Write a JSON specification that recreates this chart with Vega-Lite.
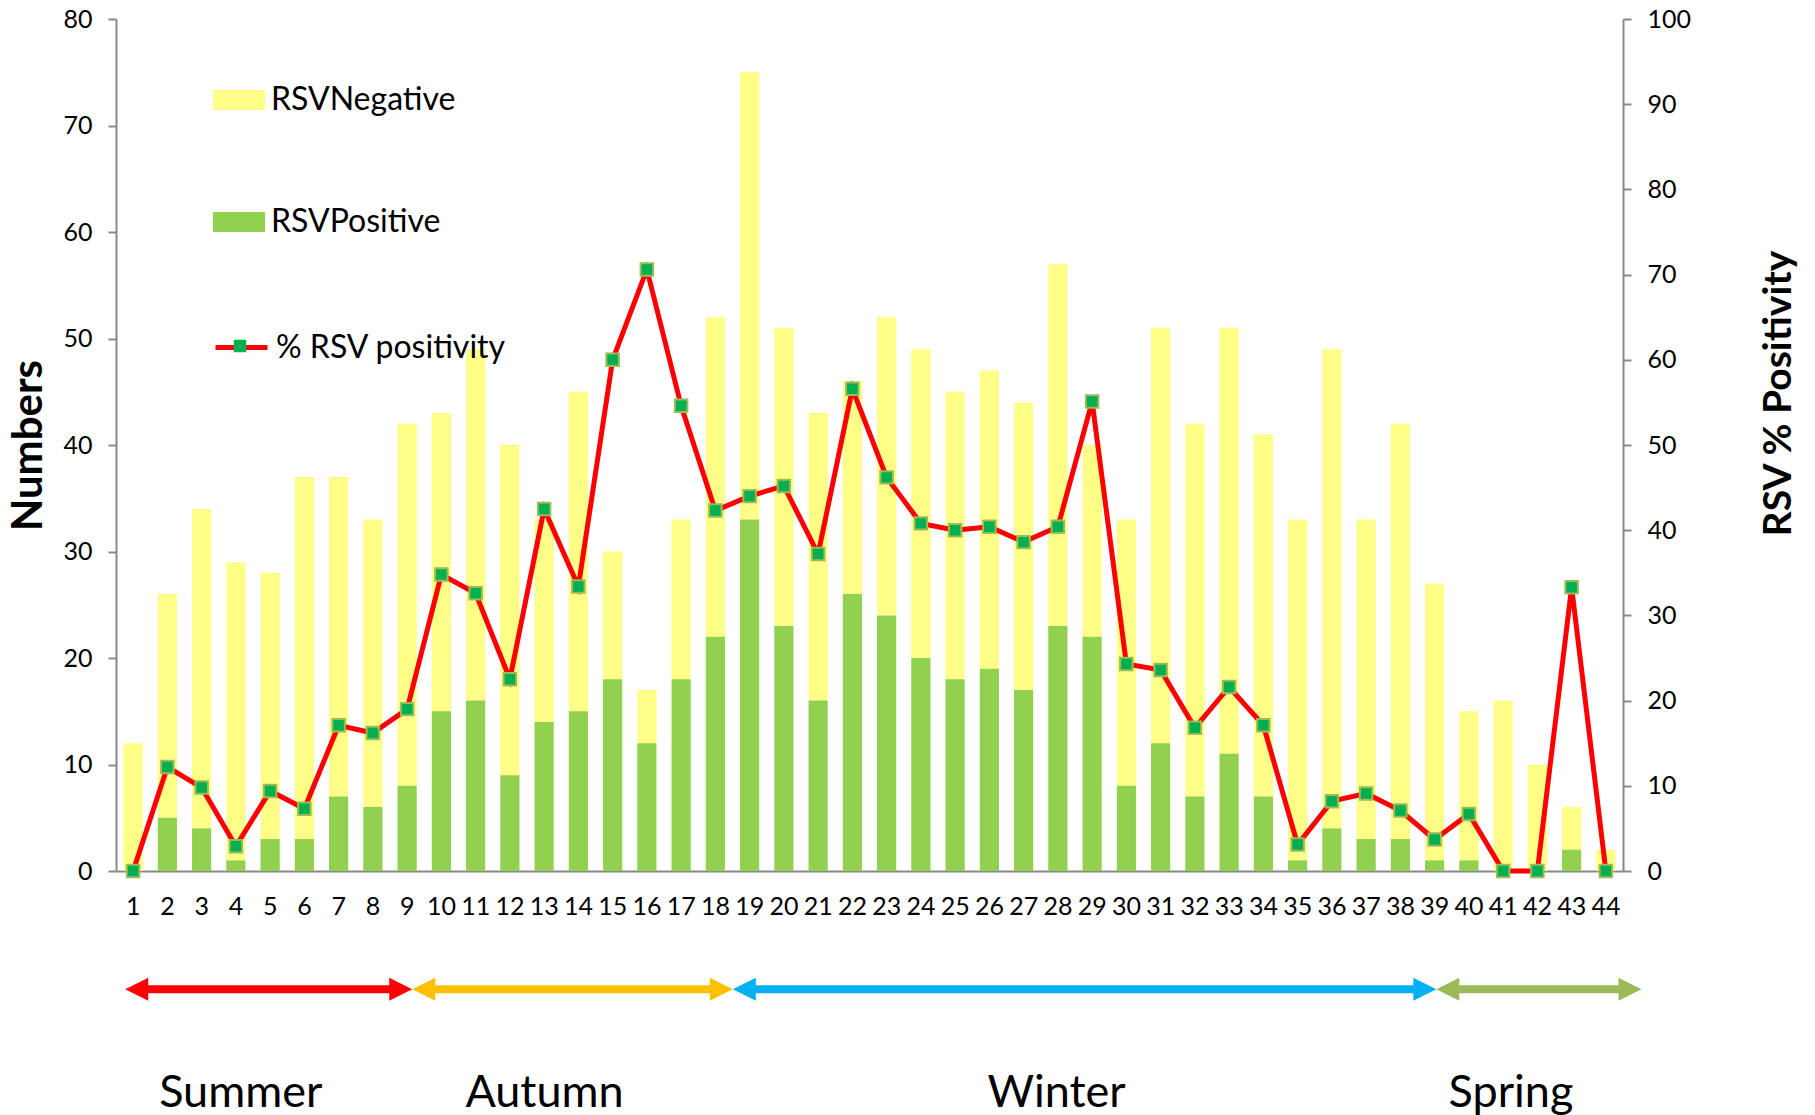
{
  "$schema": "https://vega.github.io/schema/vega-lite/v6.json",
  "width": 1507,
  "height": 852,
  "padding": {"left": 7, "top": 7, "right": 5, "bottom": 0},
  "config": {
    "font": "Lato",
    "view": {"stroke": null},
    "axis": {"labelColor": "#000000", "titleColor": "#000000"},
    "legend": {"labelColor": "#000000", "labelLimit": 0}
  },
  "datasets": {
    "weekly": [
      {"week": 1, "RSVPositive": 0, "RSVNegative": 12, "pct": 0},
      {"week": 2, "RSVPositive": 5, "RSVNegative": 21, "pct": 12.2},
      {"week": 3, "RSVPositive": 4, "RSVNegative": 30, "pct": 9.8},
      {"week": 4, "RSVPositive": 1, "RSVNegative": 28, "pct": 2.9},
      {"week": 5, "RSVPositive": 3, "RSVNegative": 25, "pct": 9.4},
      {"week": 6, "RSVPositive": 3, "RSVNegative": 34, "pct": 7.3},
      {"week": 7, "RSVPositive": 7, "RSVNegative": 30, "pct": 17.1},
      {"week": 8, "RSVPositive": 6, "RSVNegative": 27, "pct": 16.2},
      {"week": 9, "RSVPositive": 8, "RSVNegative": 34, "pct": 19.0},
      {"week": 10, "RSVPositive": 15, "RSVNegative": 28, "pct": 34.8},
      {"week": 11, "RSVPositive": 16, "RSVNegative": 33, "pct": 32.6},
      {"week": 12, "RSVPositive": 9, "RSVNegative": 31, "pct": 22.5},
      {"week": 13, "RSVPositive": 14, "RSVNegative": 19, "pct": 42.5},
      {"week": 14, "RSVPositive": 15, "RSVNegative": 30, "pct": 33.4},
      {"week": 15, "RSVPositive": 18, "RSVNegative": 12, "pct": 60.0},
      {"week": 16, "RSVPositive": 12, "RSVNegative": 5, "pct": 70.6},
      {"week": 17, "RSVPositive": 18, "RSVNegative": 15, "pct": 54.6},
      {"week": 18, "RSVPositive": 22, "RSVNegative": 30, "pct": 42.3},
      {"week": 19, "RSVPositive": 33, "RSVNegative": 42, "pct": 44.0},
      {"week": 20, "RSVPositive": 23, "RSVNegative": 28, "pct": 45.2},
      {"week": 21, "RSVPositive": 16, "RSVNegative": 27, "pct": 37.2},
      {"week": 22, "RSVPositive": 26, "RSVNegative": 20, "pct": 56.6},
      {"week": 23, "RSVPositive": 24, "RSVNegative": 28, "pct": 46.2},
      {"week": 24, "RSVPositive": 20, "RSVNegative": 29, "pct": 40.8},
      {"week": 25, "RSVPositive": 18, "RSVNegative": 27, "pct": 40.0},
      {"week": 26, "RSVPositive": 19, "RSVNegative": 28, "pct": 40.4},
      {"week": 27, "RSVPositive": 17, "RSVNegative": 27, "pct": 38.6},
      {"week": 28, "RSVPositive": 23, "RSVNegative": 34, "pct": 40.4},
      {"week": 29, "RSVPositive": 22, "RSVNegative": 18, "pct": 55.1},
      {"week": 30, "RSVPositive": 8, "RSVNegative": 25, "pct": 24.3},
      {"week": 31, "RSVPositive": 12, "RSVNegative": 39, "pct": 23.6},
      {"week": 32, "RSVPositive": 7, "RSVNegative": 35, "pct": 16.8},
      {"week": 33, "RSVPositive": 11, "RSVNegative": 40, "pct": 21.6},
      {"week": 34, "RSVPositive": 7, "RSVNegative": 34, "pct": 17.1},
      {"week": 35, "RSVPositive": 1, "RSVNegative": 32, "pct": 3.1},
      {"week": 36, "RSVPositive": 4, "RSVNegative": 45, "pct": 8.2},
      {"week": 37, "RSVPositive": 3, "RSVNegative": 30, "pct": 9.1},
      {"week": 38, "RSVPositive": 3, "RSVNegative": 39, "pct": 7.1},
      {"week": 39, "RSVPositive": 1, "RSVNegative": 26, "pct": 3.7},
      {"week": 40, "RSVPositive": 1, "RSVNegative": 14, "pct": 6.7},
      {"week": 41, "RSVPositive": 0, "RSVNegative": 16, "pct": 0},
      {"week": 42, "RSVPositive": 0, "RSVNegative": 10, "pct": 0},
      {"week": 43, "RSVPositive": 2, "RSVNegative": 4, "pct": 33.3},
      {"week": 44, "RSVPositive": 0, "RSVNegative": 2, "pct": 0}
    ],
    "seasons": [
      {"season": "Summer", "start": 0.77, "end": 9.15},
      {"season": "Autumn", "start": 9.15, "end": 18.51},
      {"season": "Winter", "start": 18.51, "end": 39.05},
      {"season": "Spring", "start": 39.05, "end": 45.04}
    ]
  },
  "layer": [
    {
      "data": {"name": "weekly"},
      "layer": [
        {
          "transform": [{"fold": ["RSVNegative", "RSVPositive"], "as": ["series", "count"]}],
          "mark": {"type": "bar"},
          "encoding": {
            "x": {
              "field": "week", "type": "ordinal",
              "scale": {"paddingInner": 0.44, "paddingOuter": 0.22},
              "axis": {"title": null, "labelAngle": 0, "ticks": false, "labelFontSize": 25, "labelPadding": 23, "domainColor": "#898989", "domainWidth": 2}
            },
            "y": {
              "field": "count", "type": "quantitative", "stack": "zero",
              "scale": {"domain": [0, 80], "nice": false},
              "axis": {"title": "Numbers", "values": [0, 10, 20, 30, 40, 50, 60, 70, 80], "grid": false, "tickSize": 8, "tickWidth": 2, "tickColor": "#898989", "domainColor": "#898989", "domainWidth": 2, "labelFontSize": 25, "labelPadding": 16, "titleFontSize": 42, "titleFontWeight": "bold", "titlePadding": 12}
            },
            "color": {
              "field": "series", "type": "nominal",
              "scale": {"domain": ["RSVNegative", "RSVPositive"], "range": ["#FFFF88", "#92D050"]},
              "legend": {"orient": "none", "legendX": 97, "legendY": 55, "title": null, "symbolType": "M-1,-0.385H1V0.385H-1Z", "symbolSize": 2704, "symbolStrokeWidth": 0, "symbolOpacity": 1, "rowPadding": 80, "labelFontSize": 32, "labelOffset": 6, "labelLimit": 0, "direction": "vertical"}
            },
            "order": {"field": "series", "sort": "descending"}
          }
        },
        {
          "encoding": {
            "x": {"field": "week", "type": "ordinal"},
            "y": {
              "field": "pct", "type": "quantitative",
              "scale": {"domain": [0, 100], "nice": false},
              "axis": {"orient": "right", "title": "RSV % Positivity", "values": [0, 10, 20, 30, 40, 50, 60, 70, 80, 90, 100], "grid": false, "tickSize": 8, "tickWidth": 2, "tickColor": "#898989", "domainColor": "#898989", "domainWidth": 2, "labelFontSize": 25, "labelPadding": 16, "titleFontSize": 39, "titleFontWeight": "bold", "titlePadding": 108, "titleAngle": 270, "titleY": 374}
            }
          },
          "layer": [
            {
              "mark": {"type": "line", "strokeWidth": 5},
              "encoding": {
                "stroke": {
                  "datum": "% RSV positivity",
                  "scale": {"range": ["#FF0000"]},
                  "legend": {"orient": "none", "legendX": 97, "legendY": 300, "title": null, "symbolType": "M-1,0H1", "symbolSize": 2704, "symbolStrokeWidth": 5, "labelFontSize": 32, "labelOffset": 6, "labelLimit": 0}
                }
              }
            },
            {
              "mark": {"type": "point", "filled": true, "fill": "#00B050", "stroke": "#9BBB59", "strokeWidth": 2, "opacity": 1, "size": 2704},
              "encoding": {
                "shape": {
                  "datum": "marker",
                  "scale": {"range": ["M-0.24,-0.24H0.24V0.24H-0.24Z"]},
                  "legend": {"orient": "none", "legendX": 97, "legendY": 300, "title": null, "symbolSize": 2704, "symbolFillColor": "#00B050", "symbolStrokeColor": "#9BBB59", "symbolStrokeWidth": 2, "symbolOpacity": 1, "labelExpr": "''", "labelFontSize": 32, "labelOffset": 6}
                }
              }
            }
          ]
        }
      ],
      "resolve": {"scale": {"y": "independent"}}
    },
    {
      "data": {"name": "seasons"},
      "encoding": {
        "color": {
          "field": "season", "type": "nominal",
          "scale": {"domain": ["Summer", "Autumn", "Winter", "Spring"], "range": ["#FF0000", "#FFC000", "#00B0F0", "#9BBB59"]},
          "legend": null
        }
      },
      "layer": [
        {
          "mark": {"type": "rule", "strokeWidth": 8, "xOffset": 11, "x2Offset": -11},
          "encoding": {
            "x": {"field": "start", "type": "quantitative", "scale": {"domain": [0.5, 44.5], "nice": false, "zero": false}, "axis": null},
            "x2": {"field": "end"},
            "y": {"datum": -11.1, "type": "quantitative", "scale": {"domain": [0, 80], "nice": false}, "axis": null}
          }
        },
        {
          "mark": {"type": "point", "shape": "M0,0L2,-1L2,1Z", "size": 529, "filled": true, "opacity": 1, "strokeWidth": 0},
          "encoding": {
            "x": {"field": "start", "type": "quantitative"},
            "y": {"datum": -11.1, "type": "quantitative"}
          }
        },
        {
          "mark": {"type": "point", "shape": "M0,0L-2,-1L-2,1Z", "size": 529, "filled": true, "opacity": 1, "strokeWidth": 0},
          "encoding": {
            "x": {"field": "end", "type": "quantitative"},
            "y": {"datum": -11.1, "type": "quantitative"}
          }
        },
        {
          "transform": [{"fold": ["start", "end"], "as": ["k", "v"]}],
          "mark": {"type": "text", "fontSize": 45, "baseline": "alphabetic", "dx": -28},
          "encoding": {
            "x": {"field": "v", "type": "quantitative", "aggregate": "mean"},
            "y": {"datum": -22.2, "type": "quantitative"},
            "text": {"field": "season", "type": "nominal"},
            "color": {"value": "#000000"}
          }
        }
      ]
    }
  ],
  "resolve": {"scale": {"x": "independent", "y": "independent", "color": "independent"}}
}
